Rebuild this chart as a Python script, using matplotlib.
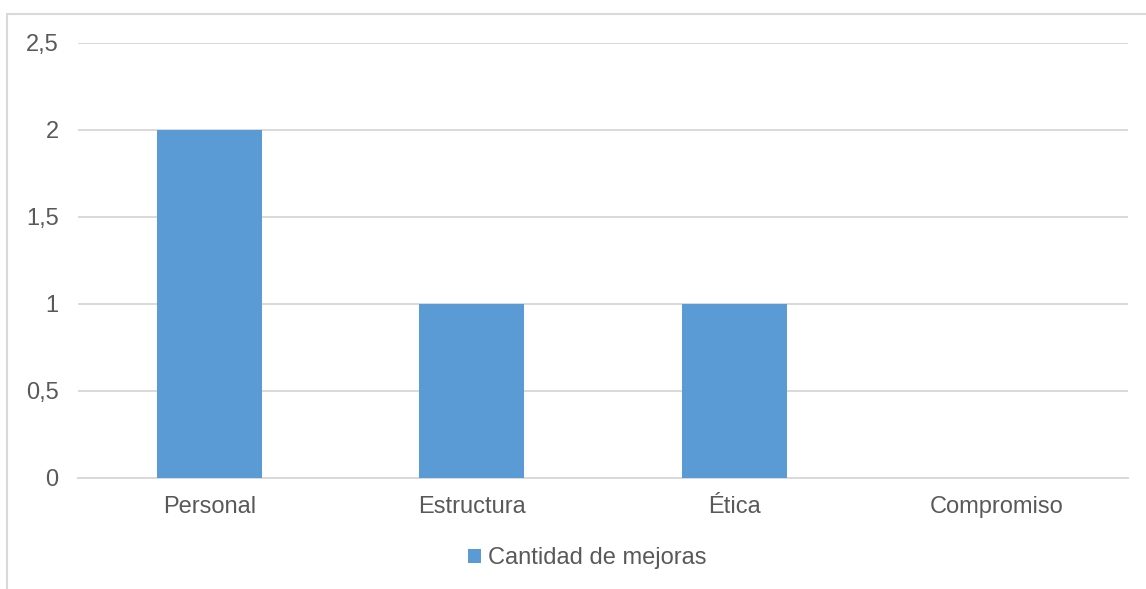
import matplotlib.pyplot as plt
from matplotlib.patches import Rectangle
from matplotlib.ticker import FuncFormatter

plt.rcParams['font.family'] = ['Liberation Sans', 'DejaVu Sans']

# datos
categorias = ["Personal", "Estructura", "Ética", "Compromiso"]
mejoras = [2, 1, 1, 0]
serie = "Cantidad de mejoras"

azul = "#5b9bd5"
gris_txt = "#595959"
gris_lin = "#d9d9d9"

fig = plt.figure(figsize=(11.46, 5.89), dpi=100)
ax = fig.add_axes([78/1146, 1 - 478/589, 1050/1146, 435/589])

x = range(len(categorias))
barras = ax.bar(x, mejoras, width=0.4, color=azul, label=serie, zorder=3)

ax.set_xlim(-0.5, len(categorias) - 0.5)
ax.set_ylim(0, 2.5)
ax.set_yticks([0, 0.5, 1, 1.5, 2, 2.5])
ax.yaxis.set_major_formatter(FuncFormatter(lambda v, p: ("%g" % v).replace(".", ",")))
ax.set_xticks(list(x))
ax.set_xticklabels(categorias)

ax.grid(axis="y", color=gris_lin, linewidth=1.4, zorder=0)
for s in ["top", "right", "left"]:
    ax.spines[s].set_visible(False)
ax.spines["bottom"].set_color(gris_lin)
ax.spines["bottom"].set_linewidth(1.4)
ax.tick_params(axis="both", length=0, labelsize=17, colors=gris_txt)
ax.tick_params(axis="x", pad=13)
ax.tick_params(axis="y", pad=14)

# marco del area del grafico (recortado a la derecha y abajo)
fig.patches.append(Rectangle((7/1146, -0.1), 1.2, 1 - 14/589 + 0.1,
                             transform=fig.transFigure, fill=False,
                             edgecolor=gris_lin, linewidth=1.5))

fig.legend(handles=[barras], labels=[serie], loc="center",
           bbox_to_anchor=(587/1146, 1 - 558/589), frameon=False,
           fontsize=17, labelcolor=gris_txt, handlelength=0.55,
           handleheight=0.55, handletextpad=0.3)

fig.savefig("out.png", dpi=100)
